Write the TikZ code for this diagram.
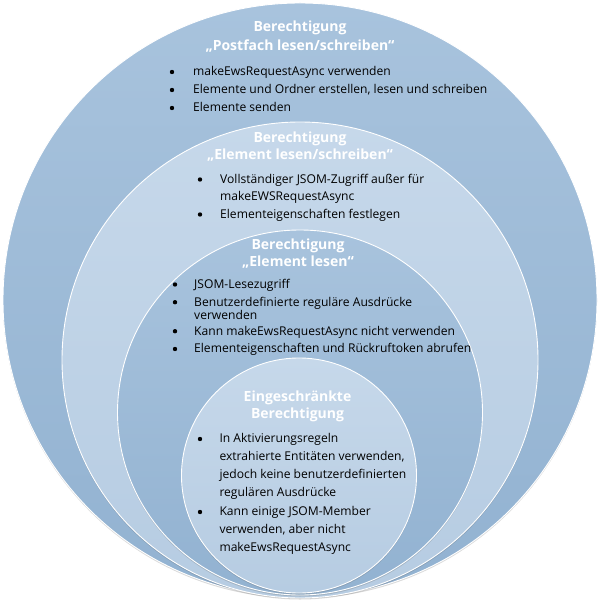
\documentclass[tikz,border=0pt]{standalone}
\usepackage{fontspec}
\setmainfont{Open Sans}
\usetikzlibrary{shadows}
\definecolor{darkTop}{HTML}{A8C3DD}
\definecolor{darkBot}{HTML}{92B2D1}
\definecolor{lightTop}{HTML}{C6D8EA}
\definecolor{lightBot}{HTML}{B6CCE2}
\begin{document}
\begin{tikzpicture}[x=1pt,y=-1pt,
  ring/.style={circle, draw=white, line width=0.9pt, inner sep=0,
    drop shadow={shadow xshift=0pt, shadow yshift=-1.5pt, opacity=0.25, fill=black!60}},
  darkring/.style={ring, top color=darkTop, bottom color=darkBot},
  lightring/.style={ring, top color=lightTop, bottom color=lightBot},
  title/.style={anchor=base, inner sep=0, text=white, font=\bfseries\fontsize{14}{16}\selectfont},
  item/.style={anchor=base west, inner sep=0, text=black, font=\fontsize{12.1}{14}\selectfont},
  dot/.style={circle, fill=black, inner sep=0, minimum size=4.4pt}]
\useasboundingbox (0,0) rectangle (600,601);
% rings
\node[darkring, minimum size=594pt] (c1) at (300,300) {};
\node[lightring, minimum size=476pt] (c2) at (300,360) {};
\node[darkring, minimum size=365pt] (c3) at (300,412.5) {};
\node[lightring, minimum size=235pt] (c4) at (299,475.5) {};
% ring 1
\node[title] (t1a) at (300,32) {Berechtigung};
\node[title] (t1b) at (300,51) {„Postfach lesen/schreiben“};
\node[dot] (b1a) at (172,72) {};
\node[item] (l1a) at (193,76) {makeEwsRequestAsync verwenden};
\node[dot] (b1b) at (172,90) {};
\node[item] (l1b) at (193,94) {Elemente und Ordner erstellen, lesen und schreiben};
\node[dot] (b1c) at (172,108) {};
\node[item] (l1c) at (193,112) {Elemente senden};
% ring 2
\node[title] (t2a) at (300,142.7) {Berechtigung};
\node[title] (t2b) at (300,160) {„Element lesen/schreiben“};
\node[dot] (b2a) at (200,179.5) {};
\node[item] (l2a) at (220,183.3) {Vollständiger JSOM-Zugriff außer für};
\node[item] (l2b) at (220,200.7) {makeEWSRequestAsync};
\node[dot] (b2b) at (200,214.5) {};
\node[item] (l2c) at (220,218.3) {Elementeigenschaften festlegen};
% ring 3
\node[title] (t3a) at (298,249.3) {Berechtigung};
\node[title] (t3b) at (298,266.7) {„Element lesen“};
\node[dot] (b3a) at (175,284.5) {};
\node[item] (l3a) at (194,288.3) {JSOM-Lesezugriff};
\node[dot] (b3b) at (175,302.2) {};
\node[item] (l3b) at (194,306) {Benutzerdefinierte reguläre Ausdrücke};
\node[item] (l3c) at (194,319) {verwenden};
\node[dot] (b3c) at (175,331.2) {};
\node[item] (l3d) at (194,335) {Kann makeEwsRequestAsync nicht verwenden};
\node[dot] (b3d) at (175,349) {};
\node[item] (l3e) at (194,352.7) {Elementeigenschaften und Rückruftoken abrufen};
% ring 4
\node[title] (t4a) at (297.5,401.7) {Eingeschränkte};
\node[title] (t4b) at (297.5,418.3) {Berechtigung};
\node[dot] (b4a) at (200,439) {};
\node[item] (l4a) at (219.3,442.7) {In Aktivierungsregeln};
\node[item] (l4b) at (219.3,460.7) {extrahierte Entitäten verwenden,};
\node[item] (l4c) at (219.3,478.3) {jedoch keine benutzerdefinierten};
\node[item] (l4d) at (219.3,496) {regulären Ausdrücke};
\node[dot] (b4b) at (200,512) {};
\node[item] (l4e) at (219.3,515.7) {Kann einige JSOM-Member};
\node[item] (l4f) at (219.3,533.3) {verwenden, aber nicht};
\node[item] (l4g) at (219.3,551.7) {makeEwsRequestAsync};
\end{tikzpicture}
\end{document}
